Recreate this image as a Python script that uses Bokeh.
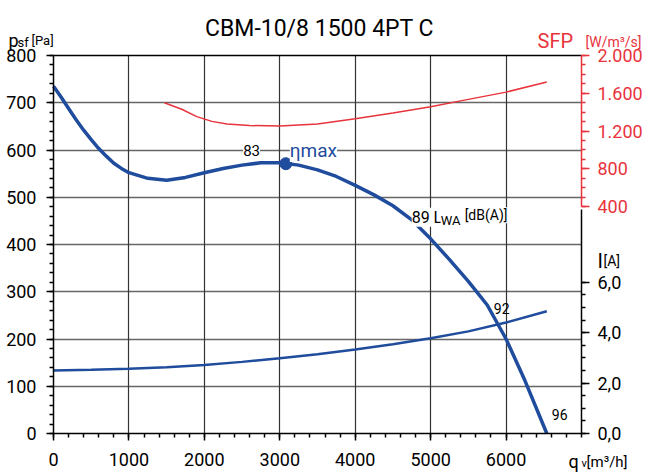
from bokeh.plotting import figure
from bokeh.models import Range1d, LinearAxis, FixedTicker, Label, Grid
from bokeh.embed import file_html
from bokeh.resources import INLINE

# ---------------- data ----------------
flow_p = [0, 100, 200, 300, 400, 500, 600, 700, 800, 900, 1000, 1250, 1500, 1750, 2000, 2250,
          2500, 2750, 3000, 3250, 3500, 3750, 4000, 4250, 4500, 4750, 5000, 5250, 5500,
          5750, 6000, 6250, 6540]
pressure = [735, 712, 688, 664, 642, 622, 603, 587, 572, 561, 552, 540, 536, 542, 552, 561,
            568, 573, 573, 568, 558, 544, 525, 505, 482, 452, 412, 368, 322,
            272, 200, 112, 0]

flow_i = [0, 500, 1000, 1500, 2000, 2500, 3000, 3500, 4000, 4500, 5000, 5500, 6000, 6540]
current = [2.50, 2.53, 2.57, 2.63, 2.72, 2.84, 2.98, 3.14, 3.33, 3.54, 3.78, 4.05, 4.40, 4.85]

flow_sfp = [1470, 1700, 1900, 2100, 2300, 2600, 3000, 3500, 4000, 4500, 5000, 5500, 6000, 6540]
sfp = [1500, 1430, 1352, 1302, 1274, 1258, 1252, 1275, 1330, 1390, 1458, 1535, 1612, 1720]

eta_flow = [3080]
eta_p = [571]

x_ticks = [0, 1000, 2000, 3000, 4000, 5000, 6000]
y_ticks = [0, 100, 200, 300, 400, 500, 600, 700, 800]
sfp_ticks = [400, 800, 1200, 1600, 2000]
sfp_labels = ["400", "800", "1.200", "1.600", "2.000"]
i_ticks = [0, 2, 4, 6]
i_labels = ["0,0", "2,0", "4,0", "6,0"]

X_MAX = 7000
Y_MAX = 800

BLUE = "#1f4c9c"
RED = "#e8333c"
FONT = "Roboto"

# ---------------- layout (pixels) ----------------
W, H = 646, 472
FL, FR, FT, FB = 53, 581, 55, 433          # plotting area edges in the canvas
ppx = (FR - FL) / X_MAX                    # pixels per m3/h
ppy = (FB - FT) / Y_MAX                    # pixels per Pa
SFP_TOP_PX, SFP_400_PX = 55, 206
spy = (SFP_400_PX - SFP_TOP_PX) / (2000 - 400)
I_PX_PER_A = 25.22

x_range = Range1d(-FL / ppx, X_MAX + (W - FR) / ppx)
y_range = Range1d(-(H - FB) / ppy, Y_MAX + FT / ppy)
sfp_range = Range1d(2000 - (H - SFP_TOP_PX) / spy, 2000 + SFP_TOP_PX / spy)
cur_range = Range1d(-(H - FB) / I_PX_PER_A, FB / I_PX_PER_A)

p = figure(width=W, height=H, output_backend="svg", toolbar_location=None,
           x_range=x_range, y_range=y_range, x_axis_type=None, y_axis_type=None,
           min_border_left=0, min_border_right=0, min_border_top=0, min_border_bottom=0)
p.extra_y_ranges = {"sfp": sfp_range, "cur": cur_range}
p.outline_line_color = None
p.background_fill_color = "white"
p.border_fill_color = "white"

def style_axis(ax, color="black", tick_out=7):
    ax.axis_line_color = color
    ax.axis_line_width = 1.5
    ax.major_tick_line_color = color
    ax.minor_tick_line_color = color
    ax.major_tick_line_width = 1.5
    ax.minor_tick_line_width = 1.5
    ax.major_tick_in = 0
    ax.minor_tick_in = 0
    ax.major_tick_out = tick_out
    ax.minor_tick_out = 4
    ax.major_label_text_font = FONT
    ax.major_label_text_font_size = "18px"
    ax.major_label_text_color = color

# ---------------- grid ----------------
has_cross = "cross_bounds" in Grid.properties()

def add_grid(dim, ticks, color, width, cross):
    if has_cross:
        g = Grid(dimension=dim, ticker=FixedTicker(ticks=ticks), cross_bounds=cross,
                 grid_line_color=color, grid_line_width=width)
        p.add_layout(g)
    else:
        if dim == 0:
            p.segment(x0=ticks, y0=[cross[0]] * len(ticks), x1=ticks, y1=[cross[1]] * len(ticks),
                      line_color=color, line_width=width)
        else:
            p.segment(x0=[cross[0]] * len(ticks), y0=ticks, x1=[cross[1]] * len(ticks), y1=ticks,
                      line_color=color, line_width=width)

add_grid(1, y_ticks[1:-1], "#666666", 1.5, (0, X_MAX))
add_grid(0, x_ticks[1:], "#333333", 1.2, (0, Y_MAX))
add_grid(1, [Y_MAX], "black", 1.5, (0, X_MAX))

# ---------------- axes ----------------
xa = LinearAxis(ticker=FixedTicker(ticks=x_ticks, minor_ticks=list(range(0, X_MAX + 1, 200))),
                bounds=(0, X_MAX), fixed_location=0)
style_axis(xa)
xa.major_label_standoff = 12
p.add_layout(xa, "below")

ya = LinearAxis(ticker=FixedTicker(ticks=y_ticks, minor_ticks=list(range(0, Y_MAX + 1, 20))),
                bounds=(0, Y_MAX), fixed_location=0)
style_axis(ya)
ya.major_label_standoff = 10
p.add_layout(ya, "left")

cur_axis = LinearAxis(y_range_name="cur",
                      ticker=FixedTicker(ticks=i_ticks, minor_ticks=[k * 0.5 for k in range(0, 13)]),
                      bounds=(0, 8.9), fixed_location=X_MAX,
                      major_label_overrides={t: l for t, l in zip(i_ticks, i_labels)})
style_axis(cur_axis, tick_out=8)
cur_axis.major_label_standoff = 8
p.add_layout(cur_axis, "right")

sfp_axis = LinearAxis(y_range_name="sfp",
                      ticker=FixedTicker(ticks=sfp_ticks, minor_ticks=list(range(400, 2001, 100))),
                      bounds=(400, 2000), fixed_location=X_MAX,
                      major_label_overrides={t: l for t, l in zip(sfp_ticks, sfp_labels)})
style_axis(sfp_axis, RED, tick_out=8)
sfp_axis.major_label_standoff = 8
p.add_layout(sfp_axis, "right")

# ---------------- curves ----------------
p.line(flow_i, current, y_range_name="cur", line_color=BLUE, line_width=2.5)
p.line(flow_sfp, sfp, y_range_name="sfp", line_color=RED, line_width=1.5)
p.line(flow_p, pressure, line_color=BLUE, line_width=3.5)
p.scatter(eta_flow, eta_p, size=12, color=BLUE)

# ---------------- texts ----------------
def lab(x, y, text, size, color="black", xo=0, yo=0, align="left", baseline="alphabetic", bg=None):
    l = Label(x=x, y=y, x_offset=xo, y_offset=yo, text=text, text_font=FONT,
              text_font_size=size, text_color=color, text_align=align, text_baseline=baseline)
    if bg:
        l.background_fill_color = bg
    p.add_layout(l)

lab(3500, Y_MAX, "CBM-10/8 1500 4PT C", "23px", xo=2, yo=27, align="center")
lab(0, Y_MAX, "p", "18px", xo=-45, yo=15)
lab(0, Y_MAX, "sf", "13px", xo=-36, yo=13)
lab(0, Y_MAX, "[Pa]", "13px", xo=-22, yo=15)
lab(X_MAX, Y_MAX, "SFP", "20px", RED, xo=-44, yo=15)
lab(X_MAX, Y_MAX, "[W/m³/s]", "14px", RED, xo=4, yo=14)
lab(X_MAX, 0, "I", "20px", xo=16, yo=173)
lab(X_MAX, 0, "[A]", "14px", xo=22, yo=173)
lab(X_MAX, 0, "q", "18px", xo=-13, yo=-28)
lab(X_MAX, 0, "v", "11px", xo=0, yo=-30)
lab(X_MAX, 0, "[m³/h]", "15px", xo=5, yo=-28)

lab(2626, 599, "83", "15px", align="center", baseline="middle", bg="white")
lab(3080, 599, "ηmax", "19px", BLUE, xo=4, baseline="middle", bg="white")
lab(5000, 500, "89 L", "16px", xo=-19, yo=-20, bg="white")
lab(5000, 500, "WA", "13px", xo=10, yo=-23, bg="white")
lab(5000, 500, "[dB(A)]", "14px", xo=34, yo=-18, bg="white")
lab(5942, 265, "92", "14px", align="center", baseline="middle")
lab(6711, 40, "96", "14px", align="center", baseline="middle")

open("out.html", "w").write(file_html(p, INLINE))
